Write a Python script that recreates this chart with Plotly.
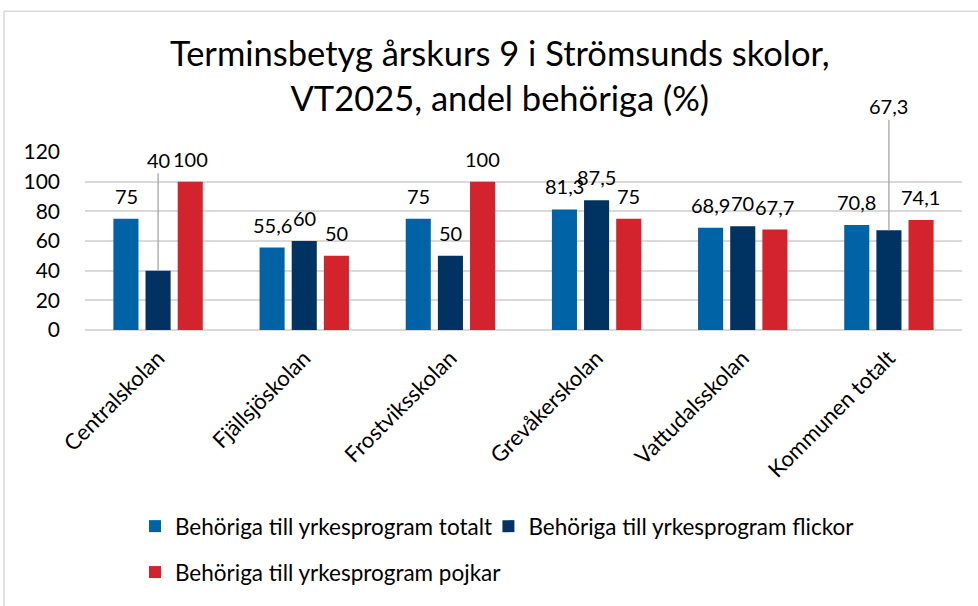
import plotly.graph_objects as go

categories = ["Centralskolan", "Fjällsjöskolan", "Frostviksskolan", "Grevåkerskolan",
              "Vattudalsskolan", "Kommunen totalt"]
series_names = ["Behöriga till yrkesprogram totalt",
                "Behöriga till yrkesprogram flickor",
                "Behöriga till yrkesprogram pojkar"]
totalt = [75, 55.6, 75, 81.3, 68.9, 70.8]
flickor = [40, 60, 50, 87.5, 70, 67.3]
pojkar = [100, 50, 100, 75, 67.7, 74.1]
y_ticks = [0, 20, 40, 60, 80, 100, 120]

colors = ["#0063A6", "#003362", "#D3232D"]
FONT = "Lato"
series = [totalt, flickor, pojkar]
legends = ["legend", "legend2", "legend3"]

fig = go.Figure()
for name, vals, col, lg in zip(series_names, series, colors, legends):
    fig.add_trace(go.Bar(x=categories, y=vals, name=name, marker_color=col,
                         marker_line_width=0, legend=lg))

def fmt(v):
    return ("%g" % v).replace(".", ",")

# data labels
shifts = [-32, 0, 32]
leader = {(1, 0): -111, (1, 5): -124}
LBL = 20
for si, vals in enumerate(series):
    for ci, v in enumerate(vals):
        if (si, ci) in leader:
            fig.add_annotation(x=categories[ci], y=v, text=fmt(v), xshift=shifts[si],
                               showarrow=True, arrowhead=0, arrowwidth=1.3,
                               arrowcolor="#a6a6a6", ax=0, ay=leader[(si, ci)],
                               standoff=0, font=dict(family=FONT, size=LBL, color="#000"))
        else:
            fig.add_annotation(x=categories[ci], y=v, text=fmt(v), xshift=shifts[si],
                               yshift=23, showarrow=False, yanchor="middle",
                               font=dict(family=FONT, size=LBL, color="#000"))

# outer chart border (left & top visible)
fig.add_shape(type="rect", xref="paper", yref="paper", x0=-0.0924, x1=1.2,
              y0=-1.8, y1=1.791, line=dict(color="#d9d9d9", width=1.5),
              fillcolor="rgba(0,0,0,0)", layer="below")

LEG = 22.5
fig.update_layout(
    width=978, height=606,
    margin=dict(l=85, r=16, t=152, b=272),
    paper_bgcolor="white", plot_bgcolor="white",
    font=dict(family=FONT, size=19, color="#000"),
    title=dict(text="Terminsbetyg årskurs 9 i Strömsunds skolor,<br>VT2025, andel behöriga (%)",
               x=0.511, xref="container", xanchor="center",
               y=1 - 66 / 606, yref="container", yanchor="middle",
               font=dict(family=FONT, size=34.5, color="#000")),
    barmode="group", bargap=0.34, bargroupgap=0.22,
    xaxis=dict(tickangle=-45, showgrid=False, showline=False, ticks="",
               ticklabelstandoff=10,
               tickfont=dict(family=FONT, size=22), automargin=False),
    yaxis=dict(range=[0, 120], tickvals=y_ticks, showgrid=True, gridcolor="#d9d9d9",
               gridwidth=1.5, zeroline=True, zerolinecolor="#d9d9d9", zerolinewidth=1.5,
               showline=False, ticks="", ticklabelstandoff=24, automargin=False,
               tickfont=dict(family=FONT, size=21)),
    legend=dict(orientation="h", x=0.057, xanchor="left", y=-1.104, yanchor="middle",
                font=dict(family=FONT, size=LEG), bgcolor="rgba(0,0,0,0)"),
    legend2=dict(orientation="h", x=0.46, xanchor="left", y=-1.104, yanchor="middle",
                 font=dict(family=FONT, size=LEG), bgcolor="rgba(0,0,0,0)"),
    legend3=dict(orientation="h", x=0.057, xanchor="left", y=-1.362, yanchor="middle",
                 font=dict(family=FONT, size=LEG), bgcolor="rgba(0,0,0,0)"),
    showlegend=True,
)

fig.write_html("out.html", config={"displayModeBar": False},
               post_script="document.body.style.margin='0';document.body.style.overflow='hidden';")
